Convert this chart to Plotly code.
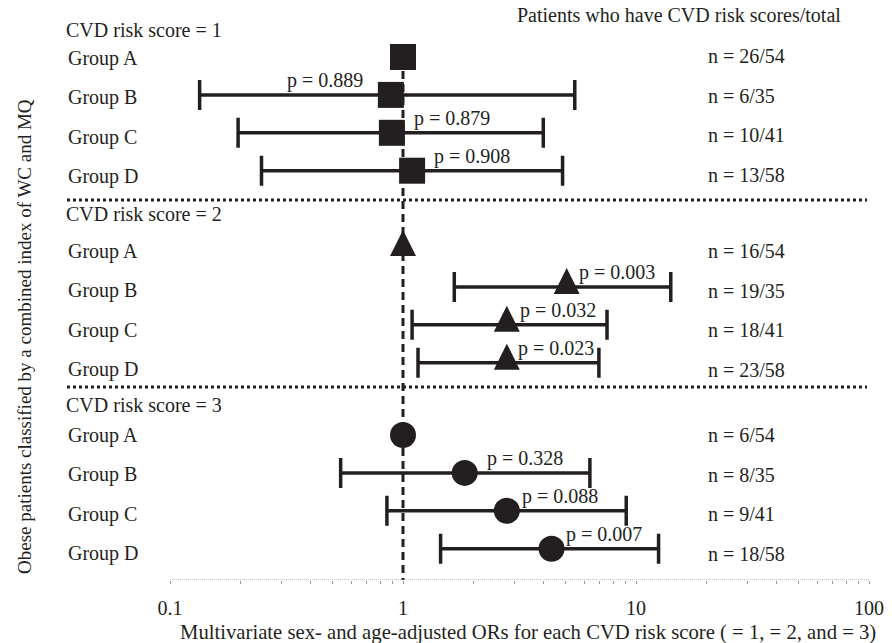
import math
import plotly.graph_objects as go

# ---------------- data ----------------
scores = ["CVD risk score = 1", "CVD risk score = 2", "CVD risk score = 3"]
groups = ["Group A", "Group B", "Group C", "Group D"]

or_s1 = [1.0, 0.887, 0.896, 1.094]
lo_s1 = [None, 0.134, 0.196, 0.247]
hi_s1 = [None, 5.46, 4.00, 4.84]
p_s1 = [None, "p = 0.889", "p = 0.879", "p = 0.908"]
n_s1 = ["n = 26/54", "n = 6/35", "n = 10/41", "n = 13/58"]

or_s2 = [1.0, 5.04, 2.79, 2.79]
lo_s2 = [None, 1.66, 1.094, 1.16]
hi_s2 = [None, 14.1, 7.51, 6.93]
p_s2 = [None, "p = 0.003", "p = 0.032", "p = 0.023"]
n_s2 = ["n = 16/54", "n = 19/35", "n = 18/41", "n = 23/58"]

or_s3 = [1.0, 1.84, 2.79, 4.34]
lo_s3 = [None, 0.54, 0.853, 1.45]
hi_s3 = [None, 6.34, 9.08, 12.5]
p_s3 = [None, "p = 0.328", "p = 0.088", "p = 0.007"]
n_s3 = ["n = 6/54", "n = 8/35", "n = 9/41", "n = 18/58"]

tick_vals = [0.1, 1, 10, 100]
tick_text = ["0.1", "1", "10", "100"]

x_title = "Multivariate sex- and age-adjusted ORs for each CVD risk score ( = 1, = 2, and = 3)"
y_title = "Obese patients classified by a combined index of WC and MQ"
n_header = "Patients who have CVD risk scores/total"

# ---------------- layout helpers ----------------
W, H = 892, 643
L, R = 170, 869          # plot area pixel extents
AX_Y = 580               # axis line pixel row
plot_w = R - L
FONT = "Liberation Serif"
INK = "#231f20"
FS = 20

bar_y0 = [57, 249, 435]
bar_step = 37.9
lab_y0 = [58, 251, 435]
lab_step = 39.6
header_y = [30, 214, 405]
sep_y = [200, 387]
symbols = ["square", "arrow-up", "circle"]
sizes = [26, 26, 26]
marker_dy = [0, -19, 0]   # arrow-up symbol has its apex at the anchor point
p_anchor = [["left", "right", "left", "left"], ["left"] * 4, ["left"] * 4]
p_shift = [[0, -13, 20, 20], [0, 10, 11, 9], [0, 20, 13, 12]]


def px_x(px):
    return (px - L) / plot_w


blocks = [
    (or_s1, lo_s1, hi_s1, p_s1, n_s1),
    (or_s2, lo_s2, hi_s2, p_s2, n_s2),
    (or_s3, lo_s3, hi_s3, p_s3, n_s3),
]

fig = go.Figure()

# reference dashed line at OR = 1
fig.add_trace(go.Scatter(x=[1, 1], y=[45, AX_Y], mode="lines",
                         line=dict(color=INK, width=3, dash="8px,5px"),
                         hoverinfo="skip", showlegend=False))

annotations = []
shapes = []

for b, (ors, los, his, ps, ns) in enumerate(blocks):
    ys = [bar_y0[b] + i * bar_step for i in range(len(groups))]
    ly = [lab_y0[b] + i * lab_step for i in range(len(groups))]
    idx = [i for i in range(len(groups)) if los[i] is not None]
    # confidence intervals
    fig.add_trace(go.Scatter(
        x=[ors[i] for i in idx], y=[ys[i] for i in idx], mode="markers",
        marker=dict(size=1, color="rgba(0,0,0,0)"),
        error_x=dict(type="data", symmetric=False,
                     array=[his[i] - ors[i] for i in idx],
                     arrayminus=[ors[i] - los[i] for i in idx],
                     color=INK, thickness=3.5, width=15),
        showlegend=False, hoverinfo="skip"))
    # point estimates
    fig.add_trace(go.Scatter(
        x=ors, y=[y + marker_dy[b] for y in ys], mode="markers",
        marker=dict(symbol=symbols[b], size=sizes[b], color=INK, line=dict(width=0)),
        showlegend=False, hoverinfo="skip"))

    annotations.append(dict(text=scores[b], x=px_x(64), y=header_y[b], xref="paper", yref="y",
                            xanchor="left", yanchor="middle", showarrow=False))
    for i, g in enumerate(groups):
        annotations.append(dict(text=g, x=px_x(66), y=ly[i], xref="paper", yref="y",
                                xanchor="left", yanchor="middle", showarrow=False))
        annotations.append(dict(text=ns[i], x=px_x(706), y=ly[i] - (2 if b == 0 else 0),
                                xref="paper", yref="y",
                                xanchor="left", yanchor="middle", showarrow=False))
        if ps[i] is not None:
            half = sizes[b] / 2 if p_anchor[b][i] == "right" else 0
            annotations.append(dict(text=ps[i], x=math.log10(ors[i]), y=ys[i], xref="x", yref="y",
                                    xanchor=p_anchor[b][i], yanchor="middle",
                                    xshift=p_shift[b][i] - half, yshift=14, showarrow=False))

for sy in sep_y:
    shapes.append(dict(type="line", xref="paper", yref="y", x0=px_x(67), x1=px_x(867),
                       y0=sy, y1=sy, line=dict(color=INK, width=3, dash="3px,3px")))

# axis line (thin dotted grey)
shapes.append(dict(type="line", xref="paper", yref="y", x0=0, x1=1, y0=AX_Y, y1=AX_Y,
                   line=dict(color="#8a8a8a", width=1, dash="1px,1px")))

annotations.append(dict(text=n_header, x=px_x(679), y=15, xref="paper", yref="y",
                        xanchor="center", yanchor="middle", showarrow=False))
annotations.append(dict(text=x_title, x=px_x(528), y=(AX_Y - 632) / AX_Y, xref="paper", yref="paper",
                        xanchor="center", yanchor="middle", showarrow=False,
                        font=dict(size=20.7)))
annotations.append(dict(text=y_title, x=px_x(24), y=(AX_Y - 337) / AX_Y, xref="paper", yref="paper",
                        xanchor="center", yanchor="middle", textangle=-90, showarrow=False,
                        font=dict(size=19)))

fig.update_layout(
    width=W, height=H,
    margin=dict(l=L, r=W - R, t=0, b=H - AX_Y, pad=0),
    paper_bgcolor="white", plot_bgcolor="white",
    font=dict(family=FONT, size=FS, color=INK),
    showlegend=False,
    annotations=annotations,
    shapes=shapes,
    xaxis=dict(type="log", range=[-1, 2], tickvals=tick_vals, ticktext=tick_text,
               showgrid=False, zeroline=False, showline=False,
               ticks="outside", ticklen=3, tickcolor="#9a9a9a", tickwidth=1,
               ticklabelstandoff=7,
               minor=dict(ticks="outside", ticklen=3, tickcolor="#9a9a9a", dtick="D1", showgrid=False),
               tickfont=dict(family=FONT, size=FS, color=INK)),
    yaxis=dict(range=[AX_Y, 0], showgrid=False, zeroline=False, showline=False,
               showticklabels=False, ticks=""),
)

fig.write_html("out.html", config={"displayModeBar": False},
               post_script="document.body.style.margin='0px';")
